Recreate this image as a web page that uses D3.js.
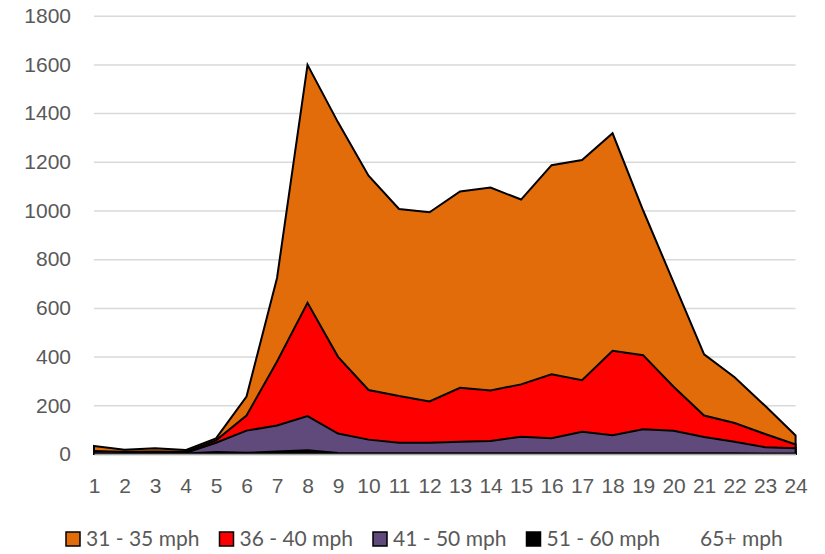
<!DOCTYPE html>
<html>
<head>
<meta charset="utf-8">
<script src="https://cdn.jsdelivr.net/npm/d3@7"></script>
<style>
  html, body { margin: 0; padding: 0; background: #fff; }
  svg { display: block; font-family: Lato, "Open Sans", sans-serif; }
  .tick text { fill: #595959; font-size: 21px; }
  .legend text { fill: #595959; font-size: 21px; }
</style>
</head>
<body>
<div id="chart"></div>
<script>
// hours of the day (x categories)
const hours = [1, 2, 3, 4, 5, 6, 7, 8, 9, 10, 11, 12, 13, 14, 15, 16, 17, 18, 19, 20, 21, 22, 23, 24];
const yTicks = [0, 200, 400, 600, 800, 1000, 1200, 1400, 1600, 1800];

// vehicle counts per speed band (overlapping areas, not stacked)
const mph31to35 = [33, 17, 24, 16, 64, 236, 723, 1598, 1362, 1143, 1006, 993, 1078, 1094, 1045, 1186, 1207, 1317, 1001, 705, 409, 315, 198, 76];
const mph36to40 = [8, 9, 10, 9, 56, 158, 380, 621, 399, 263, 238, 216, 272, 261, 286, 327, 303, 424, 406, 276, 158, 127, 82, 39];
const mph41to50 = [12, 8, 5, 4, 46, 96, 117, 156, 84, 59, 46, 46, 50, 53, 71, 65, 91, 77, 102, 95, 70, 50, 28, 24];
const mph51to60 = [3, 2, 2, 2, 8, 5, 10, 15, 4, 3, 3, 3, 3, 3, 3, 3, 3, 3, 3, 3, 3, 3, 2, 2];
const mph65plus = [0, 0, 0, 0, 0, 0, 0, 0, 0, 0, 0, 0, 0, 0, 0, 0, 0, 0, 0, 0, 0, 0, 0, 0];

const seriesNames = ["31 - 35 mph", "36 - 40 mph", "41 - 50 mph", "51 - 60 mph", "65+ mph"];
const seriesValues = [mph31to35, mph36to40, mph41to50, mph51to60, mph65plus];
const seriesColors = ["#E36C0A", "#FF0000", "#604A7B", "#000000", "none"];

const W = 825, H = 554;
const plot = { left: 94, right: 795.6, top: 15.7, bottom: 454 };

const svg = d3.select("#chart").append("svg").attr("width", W).attr("height", H);

const x = d3.scalePoint().domain(hours).range([plot.left, plot.right]);
const y = d3.scaleLinear().domain([0, 1800]).range([plot.bottom, plot.top]);

// gridlines + y labels
const yAxis = svg.append("g")
    .attr("transform", `translate(${plot.left},0)`)
    .call(d3.axisLeft(y).tickValues(yTicks).tickSize(-(plot.right - plot.left)).tickPadding(23).tickFormat(d3.format("d")));
yAxis.select(".domain").remove();
yAxis.selectAll(".tick line").attr("stroke", "#d9d9d9").attr("stroke-width", 1.5);

// areas
const area = d3.area()
    .x((d, i) => x(hours[i]))
    .y0(y(0))
    .y1(d => y(d));

svg.append("g").selectAll("path")
    .data(seriesValues).enter().append("path")
    .attr("d", d => area(d) + "Z")
    .attr("fill", (d, i) => seriesColors[i])
    .attr("stroke", (d, i) => seriesColors[i] === "none" ? "none" : "#000")
    .attr("stroke-width", 2)
    .attr("stroke-linejoin", "miter");

// x axis
const xAxis = svg.append("g")
    .attr("transform", `translate(0,${plot.bottom})`)
    .call(d3.axisBottom(x).tickSize(0).tickPadding(24));
xAxis.select(".domain").attr("stroke", "#a6a6a6").attr("stroke-width", 1.5);

// legend
const legend = svg.append("g").attr("class", "legend");
const items = legend.selectAll("g").data(seriesNames).enter().append("g")
    .attr("transform", (d, i) => `translate(${66 + i * 153.5},532)`);
items.append("rect")
    .attr("width", 14).attr("height", 14)
    .attr("fill", (d, i) => seriesColors[i])
    .attr("stroke", (d, i) => seriesColors[i] === "none" ? "none" : "#000")
    .attr("stroke-width", 1.5);
items.append("text")
    .attr("x", 20).attr("y", 7)
    .attr("dy", "0.35em")
    .text(d => d);
</script>
</body>
</html>
